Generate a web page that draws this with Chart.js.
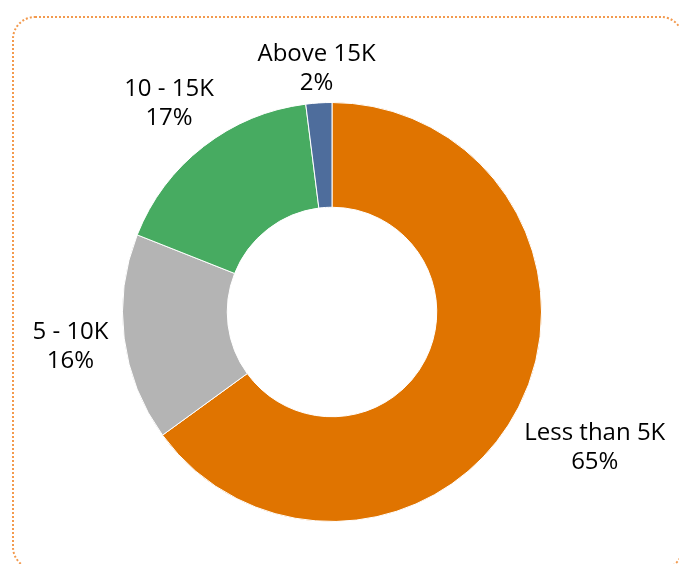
<!DOCTYPE html>
<html>
<head>
<meta charset="utf-8">
<script src="https://cdn.jsdelivr.net/npm/chart.js@4.4.1/dist/chart.umd.min.js"></script>
<style>
  html, body { margin: 0; padding: 0; background: #fff; }
  #wrap { position: relative; width: 679px; height: 564px; }
</style>
</head>
<body>
<div id="wrap"><canvas id="incomeDonut" width="679" height="564"></canvas></div>
<script>
// income bands, clockwise from 12 o'clock
const categories = ['Less than 5K', '5 - 10K', '10 - 15K', 'Above 15K'];
const shares     = [65, 16, 17, 2];
const colors     = ['#E07400', '#B4B4B4', '#47AB61', '#4E6D9C'];

const LABEL_FONT = '24px "Open Sans", sans-serif';
const LINE_H = 29;

// dotted rounded frame around the whole chart
const framePlugin = {
  id: 'frame',
  beforeDraw(chart) {
    const ctx = chart.ctx;
    ctx.save();
    ctx.strokeStyle = '#F39A4E';
    ctx.lineWidth = 2;
    ctx.setLineDash([2, 2]);
    ctx.beginPath();
    ctx.roundRect(13, 17, 670, 552, 22);
    ctx.stroke();
    ctx.restore();
  }
};

// "name / pct" labels just outside each slice, along its mid angle
const outsideLabels = {
  id: 'outsideLabels',
  afterDatasetsDraw(chart) {
    const ctx = chart.ctx;
    const meta = chart.getDatasetMeta(0);
    const total = shares.reduce((a, b) => a + b, 0);
    ctx.save();
    ctx.font = LABEL_FONT;
    ctx.fillStyle = '#000';
    ctx.textAlign = 'center';
    ctx.textBaseline = 'middle';
    meta.data.forEach((arc, i) => {
      const p = arc.getProps(['x', 'y', 'startAngle', 'endAngle', 'outerRadius'], true);
      const mid = (p.startAngle + p.endAngle) / 2;
      const dx = Math.cos(mid), dy = Math.sin(mid);
      const line1 = categories[i];
      const line2 = Math.round(shares[i] / total * 100) + '%';
      const halfW = Math.max(ctx.measureText(line1).width, ctx.measureText(line2).width) / 2;
      const dist = p.outerRadius + 14 + Math.abs(dx) * halfW + Math.abs(dy) * LINE_H * 0.65;
      const cx = p.x + dx * dist, cy = p.y + dy * dist + 2;
      ctx.fillText(line1, cx, cy - LINE_H / 2);
      ctx.fillText(line2, cx, cy + LINE_H / 2);
    });
    ctx.restore();
  }
};

new Chart(document.getElementById('incomeDonut'), {
  type: 'doughnut',
  data: {
    labels: categories,
    datasets: [{
      data: shares,
      backgroundColor: colors,
      borderColor: '#ffffff',
      borderWidth: 1
    }]
  },
  options: {
    responsive: false,
    animation: false,
    cutout: '50%',
    layout: { padding: { left: 122, right: 137, top: 102, bottom: 42 } },
    plugins: {
      legend: { display: false },
      tooltip: { enabled: false }
    }
  },
  plugins: [framePlugin, outsideLabels]
});
</script>
</body>
</html>
